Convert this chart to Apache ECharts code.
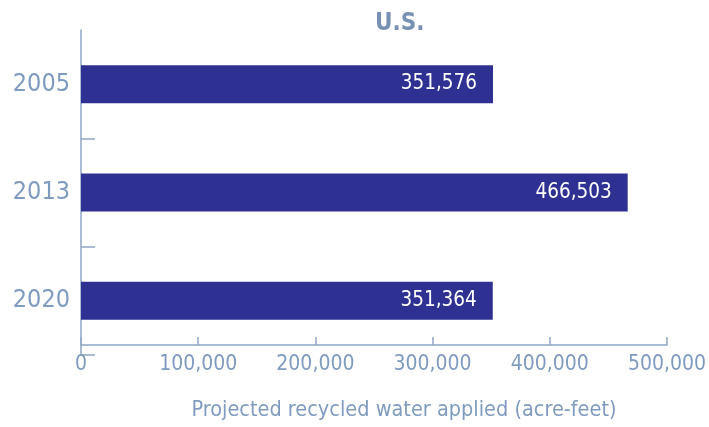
<!DOCTYPE html>
<html>
<head>
<meta charset="utf-8">
<script src="https://cdn.jsdelivr.net/npm/echarts@6/dist/echarts.min.js"></script>
<style>
    html, body { margin: 0; padding: 0; background: #fff; }
    #chart { width: 709px; height: 427px; }
</style>
</head>
<body>
<div id="chart"></div>
<script>
// data
let years = ['2005', '2013', '2020']
let applied = [351576, 466503, 351364]
let xTicks = [0, 100000, 200000, 300000, 400000, 500000]

let narrow = "'DejaVu Sans Condensed', 'Liberation Sans Narrow', sans-serif"
let axisColor = '#8ea6c6'
let textColor = '#7f9bbf'
let fmt = (v) => Number(v).toLocaleString('en-US')

let myChart = echarts.init(document.getElementById('chart'))
let option = {
    animation: false,
    title: {
        text: 'U.S.',
        left: 370,
        top: 7,
        textStyle: {
            fontFamily: narrow,
            fontWeight: 'bold',
            fontSize: 24,
            color: '#7890b4'
        }
    },
    grid: {
        left: 81,
        right: 42,
        top: 30,
        bottom: 72
    },
    xAxis: {
        type: 'value',
        min: xTicks[0],
        max: xTicks[xTicks.length - 1],
        interval: 100000,
        offset: -10,
        name: 'Projected recycled water applied (acre-feet)',
        nameLocation: 'middle',
        nameGap: 54,
        nameTextStyle: {
            fontFamily: narrow,
            fontSize: 21.5,
            color: textColor,
            padding: [0, 0, 0, 60]
        },
        splitLine: { show: false },
        axisLine: { show: true, lineStyle: { color: axisColor, width: 1.5 } },
        axisTick: { show: true, inside: true, length: 8, lineStyle: { color: axisColor, width: 1.5 } },
        axisLabel: {
            fontFamily: narrow,
            fontSize: 21,
            color: textColor,
            margin: 9,
            formatter: fmt
        }
    },
    yAxis: {
        type: 'category',
        data: years,
        inverse: true,
        axisLine: { show: true, lineStyle: { color: axisColor, width: 1.5 } },
        axisTick: {
            show: true,
            inside: true,
            length: 14,
            interval: (i) => i > 0 && i < years.length,
            lineStyle: { color: axisColor, width: 1.5 }
        },
        axisLabel: {
            fontFamily: narrow,
            fontSize: 25,
            color: textColor,
            margin: 11
        }
    },
    series: [
        {
            type: 'bar',
            data: applied,
            barWidth: 38,
            itemStyle: { color: '#2e3192' },
            label: {
                show: true,
                position: 'insideRight',
                distance: 16,
                fontFamily: narrow,
                fontSize: 20.5,
                color: '#ffffff',
                formatter: (p) => fmt(p.value)
            }
        }
    ]
}
myChart.setOption(option)
window.addEventListener('resize', function () {
    myChart.resize()
})
</script>
</body>
</html>
